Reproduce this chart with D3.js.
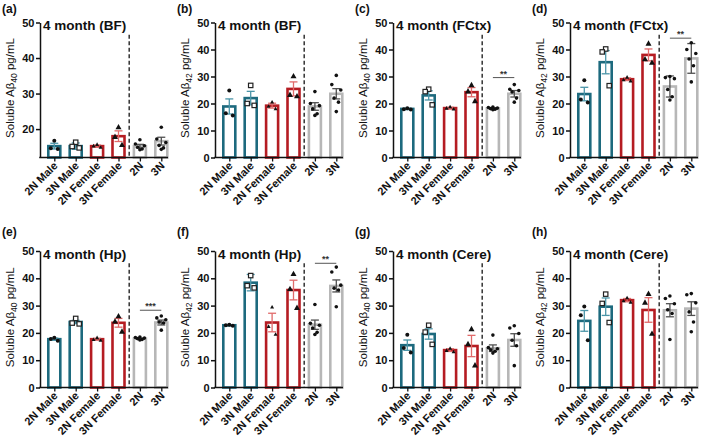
<!DOCTYPE html>
<html><head><meta charset="utf-8">
<script src="https://cdn.jsdelivr.net/npm/d3@7"></script>
<style>
body{margin:0;background:#fff}
svg{display:block;font-family:"Liberation Sans",Arial,sans-serif}
</style></head><body>
<svg id="c" width="709" height="439"></svg>
<script>
// ---------- DATA ----------
const categories = ["2N Male","3N Male","2N Female","3N Female","2N","3N"];
const panelLabels = ["(a)","(b)","(c)","(d)","(e)","(f)","(g)","(h)"];
const panelTitles = ["4 month (BF)","4 month (BF)","4 month (FCtx)","4 month (FCtx)","4 month (Hp)","4 month (Hp)","4 month (Cere)","4 month (Cere)"];
const analyteSub = ["40","42","40","42","40","42","40","42"];
const yMins = [12,0,0,0,0,0,0,0];
const yTicksA = [20,30,40,50];
const yTicksStd = [0,10,20,30,40,50];

const meansA = [15.2, 15.2, 15.2, 18.0, 15.2, 16.6];
const errA   = [0.8, 0.9, 0.3, 1.5, 0.5, 1.1];
const ptsA   = [[16.7,14.6,14.4],[16.3,15.1,14.7],[15.7,15.3,14.9],[20.6,17.9,15.6],[17.0,15.8,15.3,14.9,14.4,14.2],[20.5,17.2,16.2,15.4,14.7,14.3]];

const meansB = [18.9, 22.0, 19.2, 25.4, 18.9, 23.6];
const errB   = [2.8, 2.5, 0.9, 2.6, 1.4, 1.9];
const ptsB   = [[24.8,16.4,15.6],[26.7,20.0,19.3],[20.6,19.0,18.1],[30.2,23.3,22.8],[24.4,20.0,19.2,18.0,16.2,15.6],[30.4,27.0,25.0,22.0,20.5,17.0]];

const meansC = [18.0, 23.0, 18.3, 24.2, 18.2, 23.6];
const errC   = [0.2, 1.7, 0.3, 1.7, 0.2, 1.2];
const ptsC   = [[18.2,17.9,17.8],[25.3,24.4,19.5],[18.8,18.3,18.0],[26.9,24.6,21.0],[18.7,18.5,18.3,18.1,17.9,17.7],[27.0,25.3,24.8,24.3,22.0,20.5]];

const meansD = [23.5, 35.3, 29.0, 38.0, 26.3, 36.7];
const errD   = [2.5, 4.3, 0.5, 2.2, 3.9, 5.5];
const ptsD   = [[28.6,21.5,20.4],[40.2,39.1,26.6],[29.8,28.8,28.4],[42.3,36.5,35.2],[30.0,29.6,29.2,25.2,22.5,21.3],[42.5,40.0,38.5,36.5,34.0,28.0]];

const meansE = [17.7, 24.0, 17.7, 23.7, 17.9, 23.8];
const errE   = [0.4, 0.6, 0.3, 1.6, 0.2, 0.9];
const ptsE   = [[18.2,17.8,17.1],[25.3,23.6,23.3],[18.3,17.6,17.3],[26.2,24.3,20.6],[18.5,18.3,18.1,17.9,17.6,17.4],[26.2,25.5,24.8,24.0,23.6,21.0]];

const meansF = [22.8, 38.4, 23.8, 35.7, 23.0, 37.2];
const errF   = [0.2, 3.0, 3.4, 3.6, 1.7, 2.2];
const ptsF   = [[23.0,22.8,22.6],[41.0,37.3,36.5],[29.5,22.4,19.5],[41.7,36.2,29.3],[30.4,23.5,22.8,21.8,20.2,19.4],[44.1,42.3,37.5,36.4,35.7,29.6]];

const meansG = [15.5, 19.6, 13.7, 15.2, 14.4, 17.4];
const errG   = [1.9, 1.9, 0.5, 3.9, 1.2, 2.3];
const ptsG   = [[19.3,14.5,12.8],[22.8,20.3,15.8],[14.4,13.6,13.1],[21.5,16.0,8.2],[19.2,14.6,14.2,13.8,13.3,12.6],[22.6,21.8,19.8,17.3,15.3,8.0]];

const meansH = [24.4, 29.6, 32.0, 28.4, 28.3, 28.9];
const errH   = [3.8, 3.2, 0.6, 4.5, 2.4, 2.5];
const ptsH   = [[29.7,26.5,17.3],[34.2,30.8,23.8],[32.9,31.8,31.3],[34.4,31.2,19.8],[33.5,32.6,30.7,28.5,27.1,17.6],[34.4,34.0,31.0,27.7,24.0,20.4]];

const sigLabels = [null, null, "**", "**", "***", "**", null, null];
const sigLevels = [null, null, 29.6, 44.2, 28.3, 45.5, null, null];

// ---------- LAYOUT / STYLE ----------
const panelMeans = [meansA, meansB, meansC, meansD, meansE, meansF, meansG, meansH];
const panelErrs  = [errA, errB, errC, errD, errE, errF, errG, errH];
const panelPts   = [ptsA, ptsB, ptsC, ptsD, ptsE, ptsF, ptsG, ptsH];

const colX = [40, 215, 393, 570];
const rows = [{base:157.5, top:22.5, lab:13}, {base:387.5, top:251, lab:236}];
const barStroke = ["#1d6a7e","#1d6a7e","#b51c22","#b51c22","#b7b7b7","#b7b7b7"];
const errStroke = ["#4b95a8","#4b95a8","#e06a6a","#e06a6a","#505050","#505050"];
const shapes = ["circle","squareOpen","triSmall","tri","dot","dot"];
const jit3 = [0, -3.5, 3.5];
const jit6 = [0, -4.5, 4.5, -2.2, 2.2, 0];
const font = '"Liberation Sans", Arial, sans-serif';

const svg = d3.select("#c");

panelMeans.forEach((means, i) => {
  const x0 = colX[i % 4], r = rows[Math.floor(i / 4)];
  const g = svg.append("g");
  const y = d3.scaleLinear().domain([yMins[i], 50]).range([r.base, r.top]);
  const x = d3.scalePoint().domain(categories).range([x0 + 14.3, x0 + 121.3]);
  const errs = panelErrs[i], pts = panelPts[i];

  // panel label
  g.append("text").attr("x", x0 - 38).attr("y", r.lab)
    .attr("font-size", 12).attr("font-weight", "bold").attr("fill", "#111")
    .text(panelLabels[i]);

  // bars
  g.selectAll("rect.bar").data(categories).join("rect")
    .attr("x", c => x(c) - 6).attr("width", 12)
    .attr("y", (c, k) => y(means[k]))
    .attr("height", (c, k) => r.base - y(means[k]))
    .attr("fill", "#fff").attr("stroke", (c, k) => barStroke[k]).attr("stroke-width", 2.6);

  // error bars
  categories.forEach((c, k) => {
    const cx = x(c), hi = y(means[k] + errs[k]), lo = y(Math.max(yMins[i], means[k] - errs[k]));
    const e = g.append("g").attr("stroke", errStroke[k]).attr("stroke-width", 1.3);
    e.append("line").attr("x1", cx).attr("x2", cx).attr("y1", hi).attr("y2", lo);
    e.append("line").attr("x1", cx - 4).attr("x2", cx + 4).attr("y1", hi).attr("y2", hi);
    e.append("line").attr("x1", cx - 4).attr("x2", cx + 4).attr("y1", lo).attr("y2", lo);
  });

  // points
  categories.forEach((c, k) => {
    const arr = pts[k];
    const jit = arr.length === 3 ? jit3 : jit6;
    arr.forEach((v, j) => {
      const px = x(c) + jit[j], py = y(v);
      const s = shapes[k];
      if (s === "circle") g.append("circle").attr("cx", px).attr("cy", py).attr("r", 2).attr("fill", "#111");
      else if (s === "dot") g.append("circle").attr("cx", px).attr("cy", py).attr("r", 1.8).attr("fill", "#111");
      else if (s === "squareOpen") g.append("rect").attr("x", px - 2.2).attr("y", py - 2.2).attr("width", 4.4).attr("height", 4.4)
        .attr("fill", "#fff").attr("stroke", "#222").attr("stroke-width", 1.2);
      else {
        const sz = s === "tri" ? 3 : 2;
        g.append("path").attr("d", `M${px},${py - sz}L${px + sz},${py + sz * 0.8}L${px - sz},${py + sz * 0.8}Z`).attr("fill", "#111");
      }
    });
  });

  // dashed separator
  const xd = (x(categories[3]) + x(categories[4])) / 2;
  g.append("line").attr("x1", xd).attr("x2", xd).attr("y1", r.top + 12.3).attr("y2", r.base)
    .attr("stroke", "#333").attr("stroke-width", 1.5).attr("stroke-dasharray", "4,2.5");

  // significance
  if (sigLabels[i]) {
    const sy = y(sigLevels[i]);
    g.append("line").attr("x1", x(categories[4])).attr("x2", x(categories[5])).attr("y1", sy).attr("y2", sy)
      .attr("stroke", "#555").attr("stroke-width", 1);
    g.append("text").attr("x", (x(categories[4]) + x(categories[5])) / 2).attr("y", sy - 1)
      .attr("text-anchor", "middle").attr("font-size", 9).attr("font-weight", "bold").attr("fill", "#333")
      .text(sigLabels[i]);
  }

  // y axis
  const ya = g.append("g").attr("transform", `translate(${x0},0)`)
    .call(d3.axisLeft(y).tickValues(i === 0 ? yTicksA : yTicksStd).tickSize(4).tickSizeOuter(0).tickPadding(1.5));
  ya.select(".domain").attr("stroke", "#111").attr("stroke-width", 1.5);
  ya.selectAll(".tick line").attr("stroke", "#111").attr("stroke-width", 1.5);
  ya.selectAll(".tick text").attr("font-size", 11).attr("font-weight", "bold").attr("font-family", font).attr("fill", "#111");

  // x axis
  g.append("line").attr("x1", x0 - 0.75).attr("x2", x0 + 128).attr("y1", r.base).attr("y2", r.base)
    .attr("stroke", "#111").attr("stroke-width", 1.5);
  const xa = g.append("g").attr("transform", `translate(0,${r.base})`)
    .call(d3.axisBottom(x).tickSize(4).tickSizeOuter(0));
  xa.select(".domain").remove();
  xa.selectAll(".tick line").attr("stroke", "#111").attr("stroke-width", 1.3);
  xa.selectAll(".tick text").attr("font-size", 11).attr("font-weight", "bold").attr("font-family", font).attr("fill", "#111")
    .attr("text-anchor", "end").attr("dy", 0).attr("y", 0)
    .attr("transform", "translate(3.5,9) rotate(-45)");

  // title
  g.append("text").attr("x", x0 + 3).attr("y", r.top + 7.5)
    .attr("font-size", 13.5).attr("font-weight", "bold").attr("fill", "#111")
    .text(panelTitles[i]);

  // y title
  const yt = g.append("text")
    .attr("transform", `translate(${x0 - 26},${(r.base + r.top) / 2 - 2}) rotate(-90)`)
    .attr("text-anchor", "middle").attr("font-size", 11.5).attr("fill", "#111");
  yt.append("tspan").text("Soluble Aβ");
  yt.append("tspan").attr("font-size", 8.5).attr("dy", 3).text(analyteSub[i]);
  yt.append("tspan").attr("dy", -3).text(" pg/mL");
});
</script>
</body></html>
